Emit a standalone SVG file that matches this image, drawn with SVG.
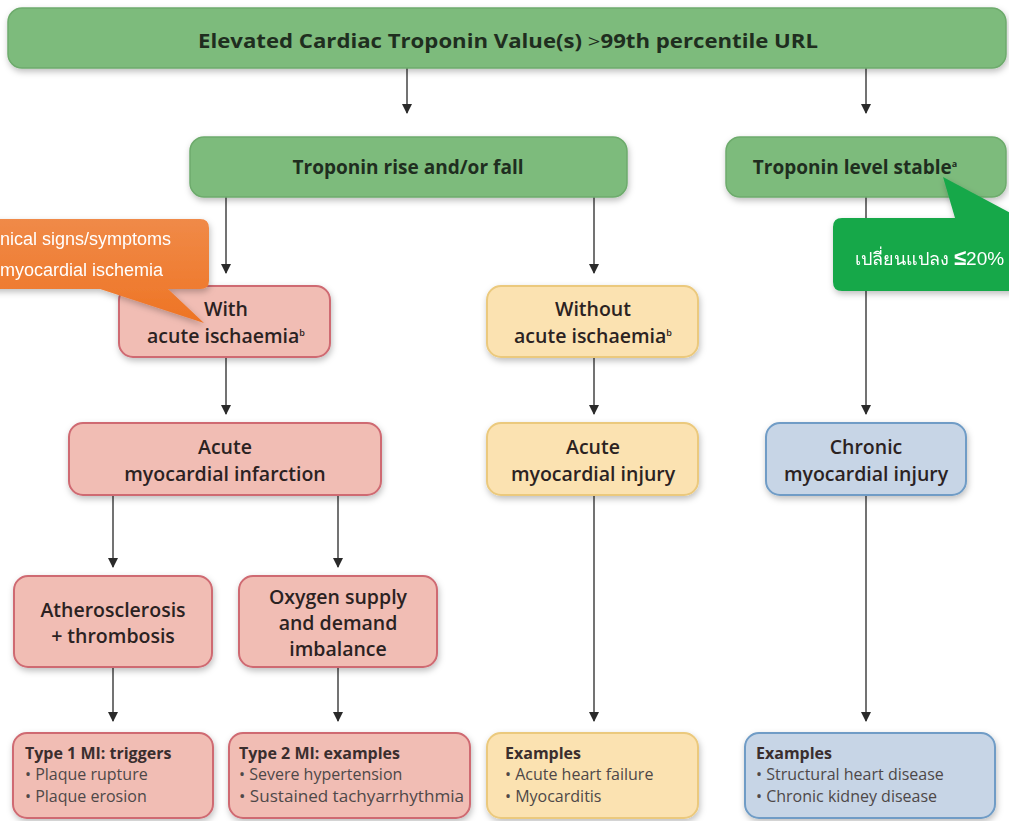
<svg xmlns="http://www.w3.org/2000/svg" width="1009" height="821" viewBox="0 0 1009 821">
<defs>
<filter id="sh" x="-10%" y="-20%" width="120%" height="150%">
<feDropShadow dx="1" dy="3" stdDeviation="3" flood-color="#000" flood-opacity="0.25"/>
</filter>
<marker id="ah" viewBox="0 0 10 10" refX="9" refY="5" markerWidth="10" markerHeight="10" markerUnits="userSpaceOnUse" orient="auto">
<path d="M0,0 L10,5 L0,10 z" fill="#2a2a2a"/>
</marker>
<linearGradient id="og" x1="0" y1="0" x2="0" y2="1">
<stop offset="0" stop-color="#f08a48"/>
<stop offset="1" stop-color="#ee7424"/>
</linearGradient>
</defs>
<style>
.t{font-family:"Open Sans","DejaVu Sans",sans-serif;font-weight:600;fill:#2b2222;text-anchor:middle}
.g{fill:#7dbb7c;stroke:#6dab6c;stroke-width:1.5}
.p{fill:#f1bdb4;stroke:#cf6a72;stroke-width:2}
.y{fill:#fbe2b1;stroke:#ebc97d;stroke-width:2}
.b{fill:#c7d5e6;stroke:#6f9cc6;stroke-width:2}
.gt{fill:#1f2e1f;font-weight:700;font-size:19px}
.bt{font-size:19.5px}
.h{font-family:"Open Sans","DejaVu Sans",sans-serif;font-weight:700;fill:#3a2e2e;font-size:16px}
.l{font-family:"Open Sans","DejaVu Sans",sans-serif;font-weight:500;fill:#4e4848;font-size:16px}
.c{stroke:#444;stroke-width:1.5;fill:none;marker-end:url(#ah)}
.w{font-family:"Liberation Sans",Arial,sans-serif;fill:#fff;font-size:18px}
</style>
<rect width="1009" height="821" fill="#ffffff"/>
<g id="connectors">
<line class="c" x1="407" y1="68" x2="407" y2="113"/>
<line class="c" x1="866" y1="68" x2="866" y2="113"/>
<line class="c" x1="226" y1="197" x2="226" y2="273"/>
<line class="c" x1="594" y1="197" x2="594" y2="273"/>
<line class="c" x1="866" y1="197" x2="866" y2="414"/>
<line class="c" x1="226" y1="357" x2="226" y2="414"/>
<line class="c" x1="594" y1="357" x2="594" y2="414"/>
<line class="c" x1="113" y1="495" x2="113" y2="567"/>
<line class="c" x1="338" y1="495" x2="338" y2="567"/>
<line class="c" x1="113" y1="667" x2="113" y2="721"/>
<line class="c" x1="338" y1="667" x2="338" y2="721"/>
<line class="c" x1="594" y1="495" x2="594" y2="721"/>
<line class="c" x1="866" y1="495" x2="866" y2="721"/>
</g>
<g id="top">
<rect class="g" x="8" y="8" width="998" height="60" rx="14" filter="url(#sh)"/>
<text class="t gt" x="508" y="48" textLength="620" lengthAdjust="spacingAndGlyphs">Elevated Cardiac Troponin Value(s) <tspan font-weight="400">&gt;</tspan>99th percentile URL</text>
</g>
<g id="rise">
<rect class="g" x="190" y="137" width="437" height="60" rx="14" filter="url(#sh)"/>
<text class="t gt" x="408" y="174" textLength="231" lengthAdjust="spacingAndGlyphs">Troponin rise and/or fall</text>
</g>
<g id="stable">
<rect class="g" x="726" y="137" width="280" height="60" rx="14" filter="url(#sh)"/>
<text class="t gt" x="855" y="174" font-size="18">Troponin level stable<tspan font-size="9" dy="-7">a</tspan></text>
</g>
<g id="with">
<rect class="p" x="119" y="286" width="211" height="71" rx="14" filter="url(#sh)"/>
<text class="t bt" x="226" y="316">With</text>
<text class="t bt" x="226" y="343">acute ischaemia<tspan font-size="9" dy="-7">b</tspan></text>
</g>
<g id="without">
<rect class="y" x="487" y="286" width="211" height="71" rx="14" filter="url(#sh)"/>
<text class="t bt" x="593" y="316">Without</text>
<text class="t bt" x="593" y="343">acute ischaemia<tspan font-size="9" dy="-7">b</tspan></text>
</g>
<g id="ami">
<rect class="p" x="69" y="423" width="312" height="72" rx="14" filter="url(#sh)"/>
<text class="t bt" x="225" y="454">Acute</text>
<text class="t bt" x="225" y="481">myocardial infarction</text>
</g>
<g id="acute-injury">
<rect class="y" x="487" y="423" width="211" height="72" rx="14" filter="url(#sh)"/>
<text class="t bt" x="593" y="454">Acute</text>
<text class="t bt" x="593" y="481">myocardial injury</text>
</g>
<g id="chronic-injury">
<rect class="b" x="766" y="423" width="200" height="72" rx="14" filter="url(#sh)"/>
<text class="t bt" x="866" y="454">Chronic</text>
<text class="t bt" x="866" y="481">myocardial injury</text>
</g>
<g id="athero">
<rect class="p" x="14" y="576" width="198" height="91" rx="14" filter="url(#sh)"/>
<text class="t bt" x="113" y="617">Atherosclerosis</text>
<text class="t bt" x="113" y="643">+ thrombosis</text>
</g>
<g id="oxygen">
<rect class="p" x="239" y="576" width="198" height="91" rx="14" filter="url(#sh)"/>
<text class="t bt" x="338" y="604">Oxygen supply</text>
<text class="t bt" x="338" y="630">and demand</text>
<text class="t bt" x="338" y="656">imbalance</text>
</g>
<g id="type1">
<rect class="p" x="13" y="733" width="200" height="85" rx="14" filter="url(#sh)"/>
<text class="h" x="25" y="759">Type 1 MI: triggers</text>
<text class="l" x="25" y="780">• Plaque rupture</text>
<text class="l" x="25" y="802">• Plaque erosion</text>
</g>
<g id="type2">
<rect class="p" x="229" y="733" width="241" height="85" rx="14" filter="url(#sh)"/>
<text class="h" x="239" y="759">Type 2 MI: examples</text>
<text class="l" x="239" y="780">• Severe hypertension</text>
<text class="l" x="239" y="802" textLength="225" lengthAdjust="spacingAndGlyphs">• Sustained tachyarrhythmia</text>
</g>
<g id="examples-acute">
<rect class="y" x="487" y="733" width="211" height="85" rx="14" filter="url(#sh)"/>
<text class="h" x="505" y="759">Examples</text>
<text class="l" x="505" y="780">• Acute heart failure</text>
<text class="l" x="505" y="802">• Myocarditis</text>
</g>
<g id="examples-chronic">
<rect class="b" x="745" y="733" width="250" height="85" rx="14" filter="url(#sh)"/>
<text class="h" x="756" y="759">Examples</text>
<text class="l" x="756" y="780">• Structural heart disease</text>
<text class="l" x="756" y="802">• Chronic kidney disease</text>
</g>
<g id="callout-orange" filter="url(#sh)">
<path d="M-12,219 H200 Q209,219 209,228 V281 Q209,289 200,289 H168 L204,323 L100,289 H-12 Z" fill="url(#og)"/>
<text class="w" x="0" y="245">nical signs/symptoms</text>
<text class="w" x="0" y="276">myocardial ischemia</text>
</g>
<g id="callout-green" filter="url(#sh)">
<path d="M842,218 H955 L943,177 L1020,218 V291 H842 Q833,291 833,282 V227 Q833,218 842,218 Z" fill="#17a84a"/>
<text class="w" x="855" y="265">เปลี่ยนแปลง <tspan font-size="22" font-weight="700">≤</tspan><tspan font-size="19">20%</tspan></text>
</g>
</svg>
